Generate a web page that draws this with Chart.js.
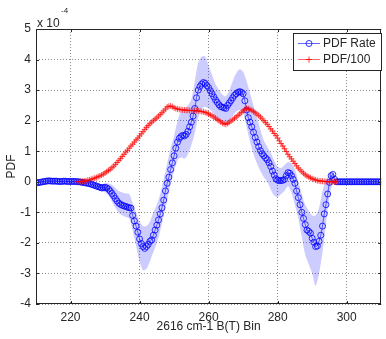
<!DOCTYPE html>
<html>
<head>
<meta charset="utf-8">
<script src="https://cdn.jsdelivr.net/npm/chart.js@4"></script>
<style>
  html, body { margin:0; padding:0; background:#fff; }
  #wrap { width:386px; height:339px; }
</style>
</head>
<body>
<div id="wrap"><canvas id="c" width="386" height="339"></canvas></div>
<script>
// ========= DATA (values in units of 1e-4) =========
const xStart = 210, xStep = 0.5;   // bin grid of both series
const xTicks = [220, 240, 260, 280, 300];
const yTicks = [-4, -3, -2, -1, 0, 1, 2, 3, 4, 5];
const legendLabels = ['PDF Rate', 'PDF/100'];

// PDF Rate, one value per half bin from 210 to 310
const rateVals = [
  -0.03,-0.03,-0.02,-0.01,0,0.01,0.02,0.03,0.03,0.02,
  0.02,0.02,0.02,0.01,0.01,0.01,0.02,0.02,0.01,0.01,
  0.01,0.01,0.01,0.01,0,0,-0.01,-0.02,-0.03,-0.04,
  -0.05,-0.06,-0.08,-0.1,-0.12,-0.14,-0.16,-0.18,-0.2,-0.19,
  -0.18,-0.2,-0.24,-0.3,-0.38,-0.46,-0.55,-0.63,-0.7,-0.74,
  -0.77,-0.79,-0.81,-0.83,-0.85,-0.86,-1.1,-1.28,-1.45,-1.65,
  -1.87,-2.02,-2.12,-2.18,-2.12,-2.05,-1.95,-1.9,-1.75,-1.58,
  -1.42,-1.25,-1.05,-0.85,-0.6,-0.3,-0.05,0.15,0.4,0.62,
  0.85,1.1,1.3,1.42,1.48,1.52,1.5,1.55,1.65,1.8,
  1.95,2.15,2.4,2.75,3.0,3.12,3.2,3.25,3.22,3.15,
  3.08,2.98,2.88,2.78,2.68,2.6,2.52,2.46,2.44,2.42,
  2.4,2.5,2.58,2.66,2.75,2.83,2.88,2.93,2.95,2.93,
  2.88,2.65,2.35,2.1,1.95,1.8,1.62,1.45,1.3,1.15,
  1.02,0.92,0.85,0.78,0.72,0.62,0.5,0.35,0.22,0.1,
  0.05,0.04,0.04,0.05,0.08,0.2,0.3,0.28,0.2,0.08,
  -0.05,-0.3,-0.52,-0.75,-1.0,-1.2,-1.4,-1.58,-1.62,-1.68,
  -1.85,-1.98,-2.12,-2.1,-1.95,-1.75,-1.45,-1.05,-0.75,-0.4,
  -0.02,0.2,0.24,0.08,0,0,0,0,0,0,
  0,0,0,0,0,0,0,0,0,0,
  0,0,0,0,0,0,0,0,0,0,
  0
];

// PDF/100, same grid (null where not plotted)
const pdfVals = [
  null,null,null,null,null,null,null,null,null,null,
  null,null,null,null,null,null,null,null,null,null,
  null,null,null,null,0,0,0.01,0.01,0.02,0.03,
  0.05,0.06,0.08,0.1,0.12,0.14,0.17,0.19,0.22,0.25,
  0.29,0.33,0.37,0.41,0.46,0.51,0.57,0.63,0.7,0.76,
  0.83,0.9,0.97,1.03,1.1,1.17,1.23,1.3,1.37,1.43,
  1.5,1.57,1.64,1.71,1.78,1.84,1.9,1.95,2.0,2.05,
  2.09,2.15,2.2,2.26,2.32,2.38,2.45,2.47,2.48,2.46,
  2.42,2.4,2.38,2.37,2.36,2.35,2.35,2.34,2.34,2.33,
  2.33,2.33,2.33,2.33,2.32,2.31,2.3,2.29,2.27,2.25,
  2.22,2.19,2.16,2.12,2.08,2.04,2.0,1.96,1.92,1.9,
  1.88,1.91,1.95,1.99,2.03,2.08,2.12,2.17,2.22,2.27,
  2.32,2.36,2.4,2.39,2.37,2.34,2.3,2.26,2.22,2.17,
  2.12,2.06,2.0,1.94,1.88,1.81,1.73,1.66,1.58,1.51,
  1.43,1.34,1.25,1.17,1.08,0.99,0.9,0.82,0.75,0.67,
  0.6,0.52,0.45,0.39,0.33,0.28,0.23,0.19,0.16,0.13,
  0.1,0.08,0.06,0.04,0.03,0.02,0.02,0.01,0.01,0,
  0,0,0,0,0,null,null,null,null,null,
  null,null,null,null,null,null,null,null,null,null,
  null,null,null,null,null,null,null,null,null,null,
  null
];

// shaded uncertainty band of PDF Rate
const bandX = [226,227,228,229,230,231,232,233,234,235,236,237,238,239,240,241,242,243,244,245,
  246,247,248,249,250,251,252,253,254,255,256,257,258,259,260,261,262,263,264,265,
  266,267,268,269,270,271,272,273,274,275,276,277,278,279,280,281,282,283,284,285,
  286,287,288,289,290,291,292,293,294,295,296,297,298];
const bandHi = [-0.05,-0.06,-0.08,-0.08,-0.05,-0.06,-0.1,-0.2,-0.3,-0.35,-0.38,-0.4,-0.7,-1.0,-1.3,-1.45,-1.45,-1.3,-1.0,-0.75,
  -0.4,0.1,0.6,1.1,1.5,2.0,2.3,2.4,2.5,2.7,3.3,3.9,4.1,4.1,3.8,3.5,3.2,3.0,2.85,2.8,
  3.0,3.3,3.55,3.68,3.6,3.3,2.9,2.5,2.1,1.7,1.35,1.15,0.95,0.7,0.5,0.45,0.55,0.65,0.6,0.4,
  0.0,-0.4,-0.75,-0.95,-1.1,-1.1,-0.85,-0.3,0.05,0.25,0.3,0.05,0];
const bandLo = [-0.1,-0.18,-0.25,-0.32,-0.35,-0.45,-0.65,-0.85,-1.02,-1.1,-1.15,-1.2,-1.6,-2.1,-2.6,-2.9,-2.85,-2.6,-2.3,-2.0,
  -1.6,-1.1,-0.6,-0.05,0.35,0.7,0.8,0.75,0.9,1.2,1.6,2.1,2.4,2.45,2.4,2.3,2.1,2.0,1.9,1.85,
  2.0,2.15,2.3,2.35,2.25,1.8,1.3,0.9,0.6,0.35,0.15,0.0,-0.25,-0.45,-0.5,-0.4,-0.3,-0.15,-0.35,-0.75,
  -1.2,-1.8,-2.4,-2.7,-3.0,-3.4,-3.0,-2.3,-1.4,-0.5,-0.05,-0.05,0];

// ========= HELPERS =========
const onGrid = vals => vals.map((v,i)=>({x: xStart + i*xStep, y: v}));
const onBand = vals => vals.map((v,i)=>({x: bandX[i], y: v}));
const FONT = '"Liberation Sans", Arial, Helvetica, sans-serif';
const INK = '#262626';
const BLUE = 'rgb(0,0,255)';
const RED = 'rgb(255,0,0)';

// ========= PLUGIN: frame, inner ticks, exponent, legend =========
const matlabDecor = {
    id:'matlabDecor',
    afterDraw(chart){
        const {ctx, chartArea:a, scales:{x, y}} = chart;
        ctx.save();
        ctx.strokeStyle = INK; ctx.lineWidth = 1;
        ctx.strokeRect(Math.round(a.left)+0.5, Math.round(a.top)+0.5,
                       Math.round(a.right-a.left)-1, Math.round(a.bottom-a.top)-1);
        // inner tick marks
        ctx.beginPath();
        xTicks.forEach(v=>{
            const px = Math.round(x.getPixelForValue(v))+0.5;
            ctx.moveTo(px, a.bottom); ctx.lineTo(px, a.bottom-3);
            ctx.moveTo(px, a.top); ctx.lineTo(px, a.top+3);
        });
        yTicks.forEach(v=>{
            const py = Math.round(y.getPixelForValue(v))+0.5;
            ctx.moveTo(a.left, py); ctx.lineTo(a.left+3, py);
            ctx.moveTo(a.right, py); ctx.lineTo(a.right-3, py);
        });
        ctx.stroke();

        // x 10^-4
        ctx.fillStyle = INK;
        ctx.textBaseline = 'alphabetic'; ctx.textAlign = 'left';
        ctx.font = '12px ' + FONT;
        ctx.fillText('x 10', a.left+1, a.top-2);
        ctx.font = '8px ' + FONT;
        ctx.fillText('-4', a.left+25, a.top-16);

        // legend box
        const lx = 293.5, ly = 33.5, lw = 88, lh = 37;
        ctx.fillStyle = '#fff'; ctx.fillRect(lx, ly, lw, lh);
        ctx.strokeStyle = INK; ctx.strokeRect(lx, ly, lw, lh);
        const rows = [{c:BLUE, y:43.5, mark:'o'}, {c:RED, y:59.5, mark:'+'}];
        rows.forEach((r,i)=>{
            ctx.strokeStyle = r.c; ctx.lineWidth = 0.6;
            ctx.beginPath(); ctx.moveTo(298, r.y); ctx.lineTo(320, r.y); ctx.stroke();
            ctx.lineWidth = 0.8;
            ctx.beginPath();
            if(r.mark==='o'){ ctx.arc(309, r.y, 3, 0, Math.PI*2); }
            else { ctx.moveTo(306, r.y); ctx.lineTo(312, r.y); ctx.moveTo(309, r.y-3); ctx.lineTo(309, r.y+3); }
            ctx.stroke();
            ctx.fillStyle = INK; ctx.font = '12px ' + FONT;
            ctx.textBaseline = 'middle';
            ctx.fillText(legendLabels[i], 323, r.y+0.5);
        });
        ctx.restore();
    }
};

// ========= CHART =========
const ctx = document.getElementById('c').getContext('2d');
new Chart(ctx,{
    type:'line',
    data:{
        datasets:[
            {
                label: legendLabels[1],
                data: onGrid(pdfVals),
                borderColor: RED, borderWidth: 0.6,
                pointStyle:'cross', pointRadius: 3, pointBorderWidth: 0.7,
                pointBorderColor: RED, pointBackgroundColor: RED,
                spanGaps:false, fill:false, order:0
            },
            {
                label: legendLabels[0],
                data: onGrid(rateVals),
                borderColor: BLUE, borderWidth: 0.6,
                pointStyle:'circle', pointRadius: 3, pointBorderWidth: 0.8,
                pointBorderColor: BLUE, pointBackgroundColor: 'rgba(0,0,0,0)',
                fill:false, order:1
            },
            {
                label:'band hi',
                data: onBand(bandHi),
                borderWidth: 0, pointRadius: 0, borderColor:'rgba(0,0,0,0)',
                backgroundColor:'rgba(0,0,255,0.2)',
                fill:'+1', tension:0.3, order:2
            },
            {
                label:'band lo',
                data: onBand(bandLo),
                borderWidth: 0, pointRadius: 0, borderColor:'rgba(0,0,0,0)',
                fill:false, tension:0.3, order:3
            }
        ]
    },
    options:{
        responsive:false,
        devicePixelRatio:1,
        animation:false,
        layout:{padding:{top:29, right:2, left:0, bottom:0}},
        plugins:{legend:{display:false}, tooltip:{enabled:false}},
        elements:{line:{tension:0}},
        scales:{
            x:{
                type:'linear', min:210, max:310,
                afterBuildTicks: s => { s.ticks = xTicks.map(v=>({value:v})); },
                afterFit: s => { s.height = 35; },
                grid:{color:'#8c8c8c', lineWidth:1, drawTicks:false},
                border:{display:false, dash:[1,2]},
                ticks:{color:INK, font:{family:FONT, size:12}, padding:6, maxRotation:0},
                title:{display:true, text:'2616 cm-1 B(T) Bin', color:INK,
                       font:{family:FONT, size:12}, padding:{top:0, bottom:5}}
            },
            y:{
                type:'linear', min:-4, max:5,
                afterBuildTicks: s => { s.ticks = yTicks.map(v=>({value:v})); },
                afterFit: s => { s.width = 36; },
                grid:{color:'#8c8c8c', lineWidth:1, drawTicks:false},
                border:{display:false, dash:[1,2]},
                ticks:{color:INK, font:{family:FONT, size:12}, padding:5},
                title:{display:true, text:'PDF', color:INK,
                       font:{family:FONT, size:12}, padding:{top:4, bottom:0}}
            }
        }
    },
    plugins:[matlabDecor]
});
</script>
</body>
</html>
